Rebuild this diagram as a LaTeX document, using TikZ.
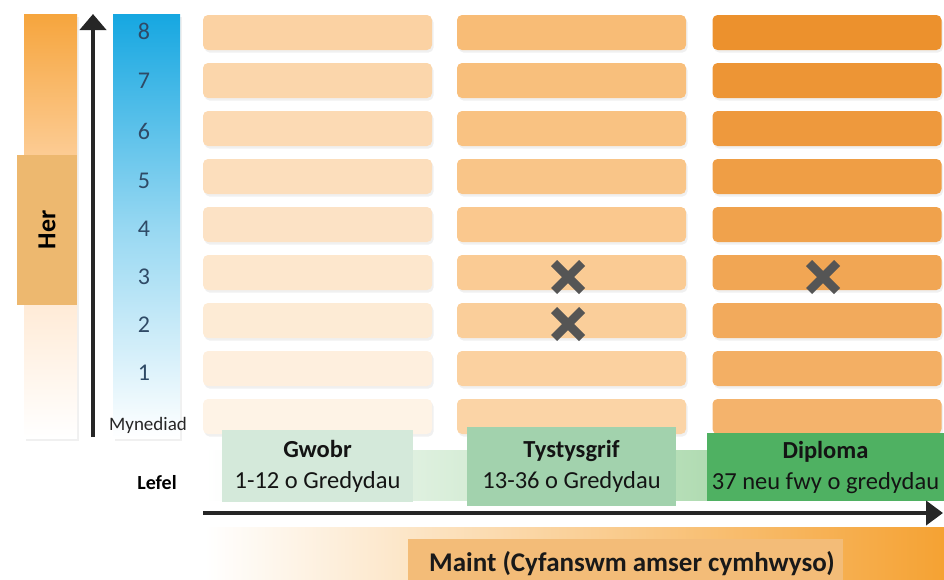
\documentclass[tikz,border=0pt]{standalone}
\usepackage{fontspec}
\setmainfont{Carlito}
\usetikzlibrary{arrows.meta,shadows}
\definecolor{aTop}{HTML}{FBD2A3}
\definecolor{aBot}{HTML}{FEF3E6}
\definecolor{bTop}{HTML}{F8BC76}
\definecolor{bBot}{HTML}{FBD4A6}
\definecolor{cTop}{HTML}{EC912D}
\definecolor{cBot}{HTML}{F4B36C}
\definecolor{numcol}{HTML}{2F4A66}
\definecolor{crosscol}{HTML}{555555}
\definecolor{gwobrcol}{HTML}{D4E9DA}
\definecolor{tystcol}{HTML}{A2D2AD}
\definecolor{diplcol}{HTML}{4FB162}
\definecolor{bandgreen}{HTML}{8CCB8E}
\definecolor{herbox}{HTML}{EDB86F}
\definecolor{herorange}{HTML}{F6A53D}
\definecolor{blue1}{HTML}{16A7E1}
\definecolor{maintbox}{HTML}{F3BC78}
\definecolor{maintorange}{HTML}{F5A233}
\tikzset{
  bar/.style={rounded corners=5pt, minimum width=229pt, minimum height=35pt, inner sep=0pt,
    draw=none, drop shadow={opacity=0.12, shadow xshift=1.5pt, shadow yshift=-2.5pt}},
  num/.style={font=\fontsize{24}{26}\selectfont, text=numcol, inner sep=0pt},
  qbox/.style={inner sep=0pt, align=center, font=\fontsize{24.5}{31}\selectfont, text=black!92},
  xline/.style={line width=8.5pt, draw=crosscol},
  axis/.style={line width=4pt, draw=black!85},
}
\begin{document}
\begin{tikzpicture}[x=1pt,y=-1pt]
\useasboundingbox (0,0) rectangle (944,579);
% Her bar
\node[inner sep=0pt, minimum width=53pt, minimum height=424pt, top color=herorange, bottom color=white,
  middle color=orange!25!white, drop shadow={opacity=0.12, shadow xshift=1.5pt, shadow yshift=-2.5pt}] (herbar) at (50.5,226) {};
\node[inner sep=0pt, minimum width=60pt, minimum height=150pt, fill=herbox] (her) at (47,230)
  {\rotatebox{90}{\fontsize{26}{28}\selectfont\bfseries Her}};
% blue bar
\node[inner sep=0pt, minimum width=67pt, minimum height=424pt, top color=blue1, bottom color=white,
  middle color=blue1!45!white, drop shadow={opacity=0.12, shadow xshift=1.5pt, shadow yshift=-2.5pt}] (bluebar) at (146.5,226) {};
% vertical axis
\coordinate (vb) at (93,437);
\coordinate (vt) at (93,14);
\draw[axis, -{Triangle[width=26pt,length=16pt]}] (vb) -- (vt);
% rows
\foreach \r in {0,...,8}{
  \pgfmathsetmacro\t{\r*12.5}
  \pgfmathsetmacro\yc{32.5+48*(8-\r)}
  \colorlet{ca}{aTop!\t!aBot}
  \colorlet{cb}{bTop!\t!bBot}
  \colorlet{cc}{cTop!\t!cBot}
  \node[bar, fill=ca] (a\r) at (317.5,\yc) {};
  \node[bar, fill=cb] (b\r) at (571.5,\yc) {};
  \node[bar, fill=cc] (c\r) at (827,\yc) {};
}
\foreach \r/\yy in {8/31,7/81,6/131,5/181,4/229,3/277,2/325,1/373}{
  \node[num] (n\r) at (144,\yy) {\r};
}
\node[inner sep=0pt, font=\fontsize{19}{21}\selectfont, text=black!85] (myn) at (148,425) {Mynediad};
\node[inner sep=0pt, font=\fontsize{20}{22}\selectfont\bfseries, text=black] (lefel) at (157,483) {Lefel};
% crosses
\coordinate (x1) at (568,277);
\coordinate (x2) at (568,324);
\coordinate (x3) at (823,277);
\foreach \c in {x1,x2,x3}{
  \draw[xline] (\c) ++(-14,-14) -- ++(28,28);
  \draw[xline] (\c) ++(14,-14) -- ++(-28,28);
}
% green band
\node[inner sep=0pt, minimum width=739pt, minimum height=50pt, left color=white, right color=bandgreen] (band) at (574.5,475) {};
\node[qbox, minimum width=191pt, minimum height=72pt, fill=gwobrcol] (gwobr) at (317.5,466)
  {\textbf{Gwobr}\\1-12 o Gredydau};
\node[qbox, minimum width=209pt, minimum height=79pt, fill=tystcol] (tyst) at (571.5,466.5)
  {\textbf{Tystysgrif}\\13-36 o Gredydau};
\node[qbox, minimum width=237pt, minimum height=68pt, fill=diplcol] (dipl) at (825.5,467)
  {\textbf{Diploma}\\37 neu fwy o gredydau};
% horizontal axis
\coordinate (hl) at (203,513);
\coordinate (hr) at (943,513);
\draw[axis, -{Triangle[width=24pt,length=17pt]}] (hl) -- (hr);
% maint band
\node[inner sep=0pt, minimum width=739pt, minimum height=52pt, left color=white, right color=maintorange] (mband) at (574.5,553) {};
\node[inner sep=0pt, minimum width=435pt, minimum height=41pt, fill=maintbox] (mbox) at (625.5,559) {};
\node[inner sep=0pt, font=\fontsize{27}{29}\selectfont\bfseries, text=black!90] (maint) at (632,564) {Maint (Cyfanswm amser cymhwyso)};
\end{tikzpicture}
\end{document}
